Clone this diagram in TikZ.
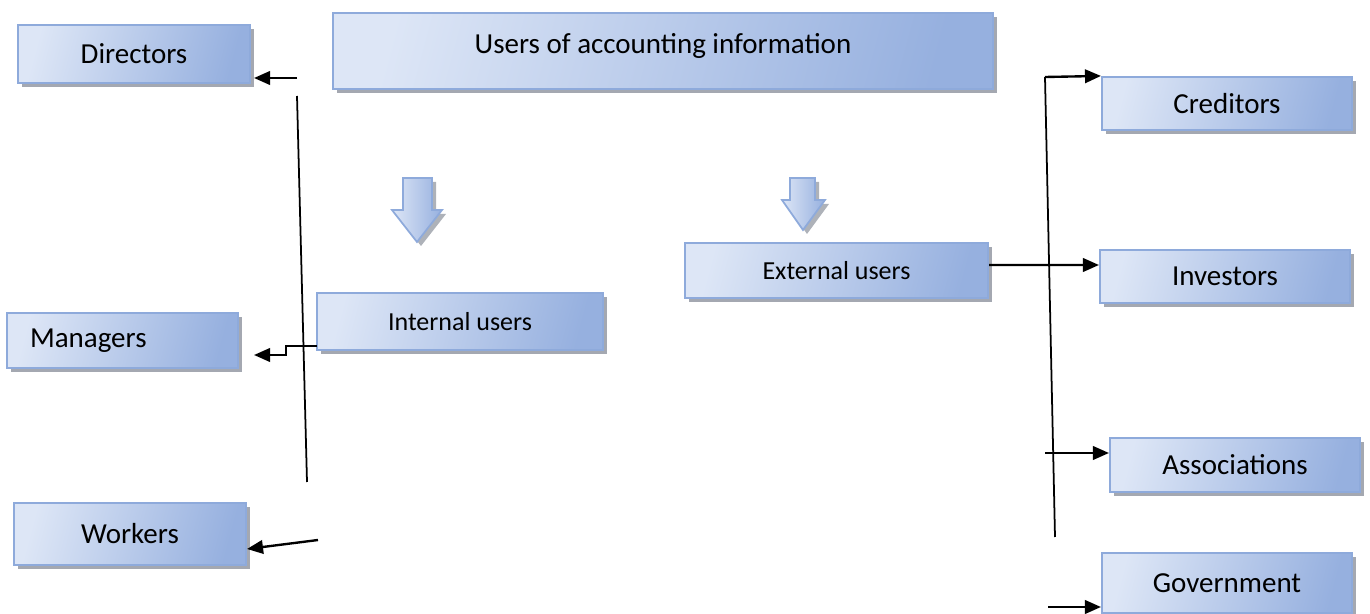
\documentclass[tikz,border=0pt]{standalone}
\usepackage{fontspec}
\setmainfont{Carlito}
\usetikzlibrary{arrows.meta,shadows,calc}
\definecolor{boxlight}{HTML}{DDE6F6}
\definecolor{boxmid}{HTML}{CFDBF2}
\definecolor{boxdark}{HTML}{96B0DF}
\definecolor{boxedge}{HTML}{8EAADB}
\definecolor{shadowgray}{HTML}{9A9FA8}
\tikzset{
  ubox/.style={draw=boxedge, line width=1.2pt, left color=boxlight, middle color=boxmid, right color=boxdark,
    shading angle=75, inner sep=0pt, font=\fontsize{16.5}{20}\selectfont,
    drop shadow={shadow xshift=0.08cm, shadow yshift=-0.08cm, fill=shadowgray, opacity=0.9}},
  smallbox/.style={ubox, font=\fontsize{14.8}{18}\selectfont},
  arr/.style={-{Triangle[length=0.32cm,width=0.27cm]}, line width=1.35pt},
  vline/.style={line width=1pt},
  blockarrow/.style={draw=boxedge, line width=1pt, left color=boxlight, middle color=boxmid, right color=boxdark}
}
\begin{document}
\begin{tikzpicture}[x=0.02cm,y=-0.02cm]
\useasboundingbox (0,0) rectangle (1370,614);

% boxes
\node[ubox, minimum width=13.2cm, minimum height=1.52cm, text depth=0.3cm] (title) at (663,51) {Users of accounting information};
\node[ubox, minimum width=4.64cm, minimum height=1.16cm] (dir) at (134,54) {Directors};
\node[ubox, minimum width=4.62cm, minimum height=1.10cm, text width=3.70cm, inner xsep=0.46cm, align=left] (man) at (122.5,340.5) {Managers};
\node[ubox, minimum width=4.64cm, minimum height=1.24cm] (wor) at (130,534) {Workers};
\node[smallbox, minimum width=5.72cm, minimum height=1.14cm] (int) at (460,321.5) {Internal users};
\node[smallbox, minimum width=6.06cm, minimum height=1.10cm] (ext) at (836.5,270.5) {External users};
\node[ubox, minimum width=5.0cm, minimum height=1.06cm] (cre) at (1227,103.5) {Creditors};
\node[ubox, minimum width=5.0cm, minimum height=1.06cm] (inv) at (1225,276.5) {Investors};
\node[ubox, minimum width=5.0cm, minimum height=1.08cm] (ass) at (1235,465) {Associations};
\node[ubox, minimum width=5.0cm, minimum height=1.20cm] (gov) at (1227,583) {Government};

% block arrows
\fill[shadowgray, opacity=0.8] (407,182) -- (436,182) -- (436,214) -- (446,214) -- (421,246) -- (396,214) -- (407,214) -- cycle;
\shade[blockarrow] (403,178) -- (432,178) -- (432,210) -- (442,210) -- (417,242) -- (392,210) -- (403,210) -- cycle;
\fill[shadowgray, opacity=0.8] (794,182) -- (819,182) -- (819,204) -- (829,204) -- (807,234) -- (786,204) -- (794,204) -- cycle;
\shade[blockarrow] (790,178) -- (815,178) -- (815,200) -- (825,200) -- (803,230) -- (782,200) -- (790,200) -- cycle;

% left connectors
\coordinate (lt) at (297,96);
\coordinate (lb) at (307,482);
\draw[vline] (lt) -- (lb);
\coordinate (d0) at (297,78);
\draw[arr] (d0) -- ([xshift=0.06cm]d0 -| dir.east);
\coordinate (m0) at (317,346);
\coordinate (m1) at (286,355);
\draw[arr] (m0) -- (m0 -| m1) -- (m1) -- ([xshift=0.3cm]m1 -| man.east);
\coordinate (w0) at (318,540);
\draw[arr] (w0) -- ([yshift=-0.3cm]wor.east);

% right connectors
\coordinate (rt) at (1045,77);
\coordinate (rb) at (1055,537);
\draw[vline] (rt) -- (rb);
\draw[arr] (rt) -- (cre.north west);
\draw[arr] ([yshift=0.11cm]ext.east) -- ([yshift=0.23cm]inv.west);
\coordinate (a0) at (1045,453);
\draw[arr] (a0) -- (a0 -| ass.west);
\coordinate (g0) at (1048,607);
\draw[arr] (g0) -- (g0 -| gov.west);
\end{tikzpicture}
\end{document}
